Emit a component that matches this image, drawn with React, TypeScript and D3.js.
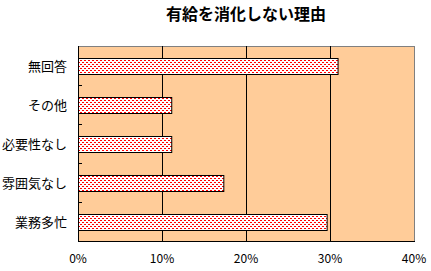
import React from "react";
import * as d3 from "d3";

const categories = ["無回答", "その他", "必要性なし", "雰囲気なし", "業務多忙"];
const values = [30.9, 11.1, 11.1, 17.3, 29.6];
const xTicks = [0, 10, 20, 30, 40];
const title = "有給を消化しない理由";

export default function App() {
  const W = 431, H = 271;
  const left = 78, right = 414, top = 46, bottom = 241;
  const x = d3.scaleLinear().domain([0, 40]).range([left, right]);
  const y = d3.scaleBand<string>().domain(categories).range([top, bottom]).paddingInner(0.6).paddingOuter(0.3);
  const yb = d3.scaleBand<string>().domain(categories).range([top, bottom]);
  const font = "'Noto Sans CJK JP', sans-serif";
  return (
    <svg width={W} height={H} style={{ position: "absolute", left: 0, top: 0 }}>
      <defs>
        <pattern id="brick" patternUnits="userSpaceOnUse" width={4} height={4} x={left} y={top}>
          <rect width={4} height={4} fill="#ffffff" />
          <rect x={0} y={0} width={2} height={1} fill="#ff0000" />
          <rect x={2} y={2} width={2} height={1} fill="#ff0000" />
        </pattern>
      </defs>
      <rect x={0} y={0} width={W} height={H} fill="#ffffff" />
      <text x={(left + right) / 2} y={19.5} textAnchor="middle" fontFamily={font} fontWeight="bold" fontSize={16} fill="#000">{title}</text>
      <rect x={left} y={top} width={right - left} height={bottom - top} fill="#ffcc99" stroke="#808080" strokeWidth={1} shapeRendering="crispEdges" />
      {xTicks.slice(1, -1).map((t) => (
        <line key={t} x1={Math.round(x(t)) + 0.5} x2={Math.round(x(t)) + 0.5} y1={top} y2={bottom} stroke="#000" strokeWidth={1} />
      ))}
      {categories.map((c, i) => (
        <rect key={c} x={left + 0.5} y={Math.round(y(c)!) + 0.5} width={x(values[i]) - left} height={Math.round(y.bandwidth())} fill="url(#brick)" stroke="#000" strokeWidth={1} />
      ))}
      <line x1={left + 0.5} x2={left + 0.5} y1={top} y2={bottom + 1} stroke="#000" />
      <line x1={left} x2={right + 1} y1={bottom + 0.5} y2={bottom + 0.5} stroke="#000" />
      {categories.slice(1).map((c) => (
        <line key={c} x1={left} x2={left + 4} y1={Math.round(yb(c)!) + 0.5} y2={Math.round(yb(c)!) + 0.5} stroke="#000" />
      ))}
      {categories.map((c) => (
        <text key={c} x={67} y={yb(c)! + yb.bandwidth() / 2 + 5} textAnchor="end" fontFamily={font} fontSize={13} fill="#000">{c}</text>
      ))}
      {xTicks.map((t) => (
        <text key={t} x={x(t)} y={263} textAnchor="middle" fontFamily={font} fontSize={12} fill="#000">{t}%</text>
      ))}
    </svg>
  );
}
